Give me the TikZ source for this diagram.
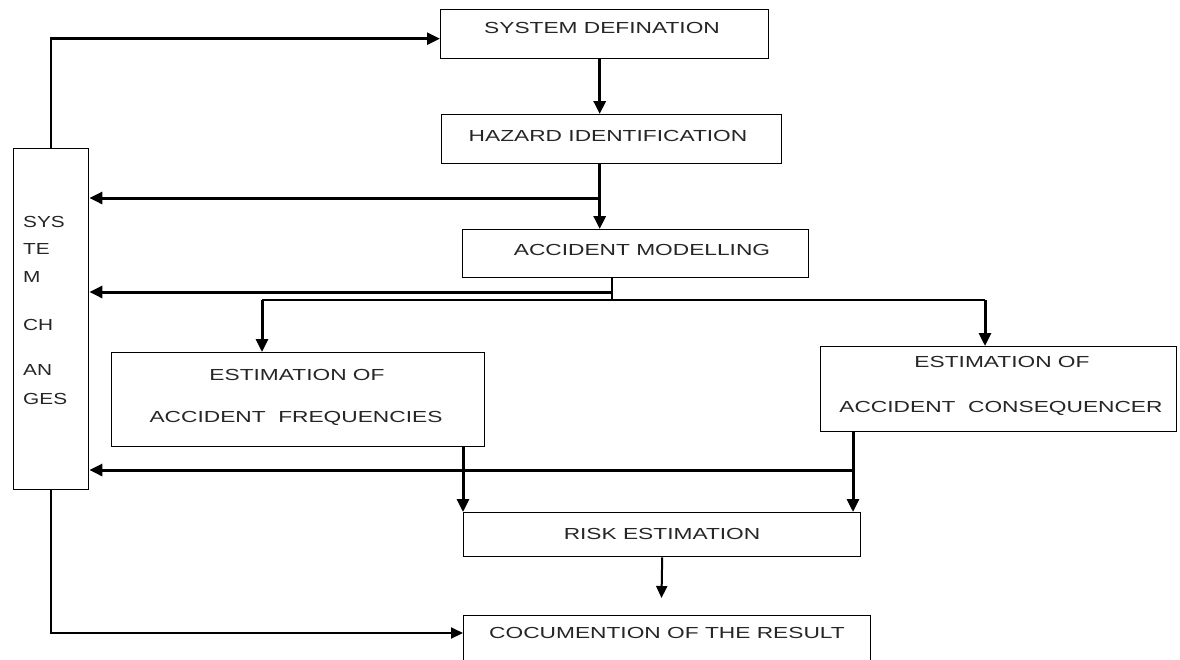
\documentclass[tikz,border=0pt]{standalone}
\usepackage{fontspec}
\usepackage{graphicx}
\setmainfont{Liberation Sans}
\usetikzlibrary{arrows.meta}
\newcommand{\wtxt}[2][1.42]{\scalebox{#1}[1]{#2}}
\begin{document}
\begin{tikzpicture}[x=1pt,y=-1pt,
  box/.style={draw=black,line width=1.4pt,inner sep=0pt,anchor=north west},
  lbl/.style={inner sep=0pt,text=black!85,font=\fontsize{16}{19}\selectfont},
  fat/.style={line width=3pt,-{Triangle[length=13pt,width=12pt]}},
  mid/.style={line width=2pt,-{Triangle[length=12pt,width=11pt]}},
  thinline/.style={line width=1.5pt}]
\clip (0,0) rectangle (1180,659);
\fill[white] (0,0) rectangle (1180,659);
% boxes
\node[box,minimum width=328pt,minimum height=49pt] (sd) at (440,9) {};
\node[box,minimum width=340pt,minimum height=49pt] (hz) at (441,114) {};
\node[box,minimum width=346pt,minimum height=48pt] (am) at (462,229) {};
\node[box,minimum width=373pt,minimum height=94pt] (fq) at (111,352) {};
\node[box,minimum width=356pt,minimum height=85pt] (cq) at (820,346) {};
\node[box,minimum width=397pt,minimum height=44pt] (rk) at (463,512) {};
\node[box,minimum width=407pt,minimum height=70pt] (dc) at (463,615) {};
\node[box,minimum width=75pt,minimum height=341pt] (sc) at (13,148) {};
% texts
\node[lbl] (sdt) at (602,28) {\wtxt{SYSTEM DEFINATION}};
\node[lbl] (hzt) at (608,136) {\wtxt{HAZARD IDENTIFICATION}};
\node[lbl] (amt) at (642,250) {\wtxt{ACCIDENT MODELLING}};
\node[lbl] (fqt1) at (297,375) {\wtxt{ESTIMATION OF}};
\node[lbl] (fqt2) at (296,418) {\wtxt{ACCIDENT\ \ FREQUENCIES}};
\node[lbl] (cqt1) at (1002,362) {\wtxt{ESTIMATION OF}};
\node[lbl] (cqt2) at (1001,408) {\wtxt{ACCIDENT\ \ CONSEQUENCER}};
\node[lbl] (rkt) at (662,534) {\wtxt{RISK ESTIMATION}};
\node[lbl] (dct) at (667,633) {\wtxt{COCUMENTION OF THE RESULT}};
\node[lbl,anchor=west] (s1) at (23,222) {\wtxt[1.3]{SYS}};
\node[lbl,anchor=west] (s2) at (23,249) {\wtxt[1.3]{TE}};
\node[lbl,anchor=west] (s3) at (23,277) {\wtxt[1.3]{M}};
\node[lbl,anchor=west] (s4) at (23,325) {\wtxt[1.3]{CH}};
\node[lbl,anchor=west] (s5) at (23,370) {\wtxt[1.3]{AN}};
\node[lbl,anchor=west] (s6) at (23,399) {\wtxt[1.3]{GES}};
% connectors
\coordinate (sdin) at ([yshift=-4.5pt]sd.west);
\draw[line width=2.5pt,-{Triangle[length=13pt,width=12pt]}] (sc.north) -- (sc.north |- sdin) -- (sdin);
\draw[fat] ([xshift=-5pt]sd.south) -- ([xshift=-5pt]sd.south |- hz.north);
\draw[fat] ([xshift=-12pt]hz.south) -- ([xshift=-12pt]hz.south |- am.north);
\coordinate (j1) at (599,198);
\draw[fat] (j1) -- (j1 -| sc.east);
\coordinate (j2) at (612,300);
\coordinate (j3) at (612,292);
\draw[thinline] (am.south -| j2) -- (j2);
\draw[fat] (j3) -- (j3 -| sc.east);
\coordinate (jl) at (262,300);
\coordinate (jr) at (985,300);
\draw[thinline] (jl) -- (jr);
\draw[fat] (jl) -- (jl |- fq.north);
\draw[fat] (jr) -- (jr |- cq.north);
\draw[fat] (fq.south -| rk.west) -- (rk.north west);
\coordinate (j5) at (853,470);
\draw[fat] (cq.south -| j5) -- (j5 |- rk.north);
\draw[fat] (j5) -- (j5 -| sc.east);
\coordinate (dtip) at (661.5,598);
\draw[mid] (rk.south) -- (dtip);
\coordinate (j6) at (50,633);
\draw[mid] (sc.south) -- (sc.south |- j6) -- (j6 -| dc.west);
\end{tikzpicture}
\end{document}
